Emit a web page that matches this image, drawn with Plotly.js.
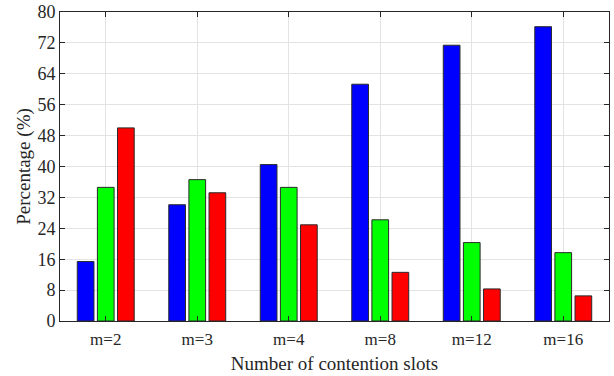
<!DOCTYPE html>
<html><head><meta charset="utf-8">
<script src="https://cdn.plot.ly/plotly-3.0.1.min.js"></script>
<style>html,body{margin:0;padding:0;background:#fff}#chart{width:614px;height:376px}</style>
</head><body><div id="chart"></div>
<script>
const categories = ['m=2','m=3','m=4','m=8','m=12','m=16'];
const blueValues = [15.4, 30.1, 40.5, 61.3, 71.4, 76.2];
const greenValues = [34.6, 36.6, 34.6, 26.2, 20.3, 17.7];
const redValues = [50.0, 33.2, 24.9, 12.6, 8.3, 6.5];
const yTicks = [0, 8, 16, 24, 32, 40, 48, 56, 64, 72, 80];

const font = '"Liberation Serif", "Times New Roman", Times, serif';
function bar(y, color){
  return {type:'bar', x:categories, y:y, marker:{color:color, line:{color:'#2a2a2a', width:1}}, hoverinfo:'skip'};
}
const data = [bar(blueValues,'#0000ff'), bar(greenValues,'#00ff00'), bar(redValues,'#ff0000')];
const axisCommon = {showline:true, mirror:'ticks', linecolor:'#262626', linewidth:1, ticks:'inside', ticklen:5, tickcolor:'#262626', gridcolor:'#e3e3e3', zeroline:false};
const layout = {
  width:614, height:376,
  margin:{l:60, r:5, t:12, b:55},
  paper_bgcolor:'#fff', plot_bgcolor:'#fff',
  showlegend:false,
  barmode:'group', bargap:0.34, bargroupgap:0.17,
  font:{family:font, size:16, color:'#262626'},
  xaxis:Object.assign({}, axisCommon, {
    range:[-0.5, 5.5], type:'category',
    tickfont:{family:font, size:17, color:'#262626'},
    ticklabelstandoff:3,
    title:{text:'Number of contention slots', font:{family:font, size:19, color:'#262626'}, standoff:8}
  }),
  yaxis:Object.assign({}, axisCommon, {
    range:[0, 80], tickvals:yTicks, ticktext:yTicks.map(String),
    tickfont:{family:font, size:18, color:'#262626'},
    title:{text:'Percentage (%)', font:{family:font, size:19, color:'#262626'}, standoff:1}
  })
};
Plotly.newPlot('chart', data, layout, {displayModeBar:false, staticPlot:true});
</script></body></html>
